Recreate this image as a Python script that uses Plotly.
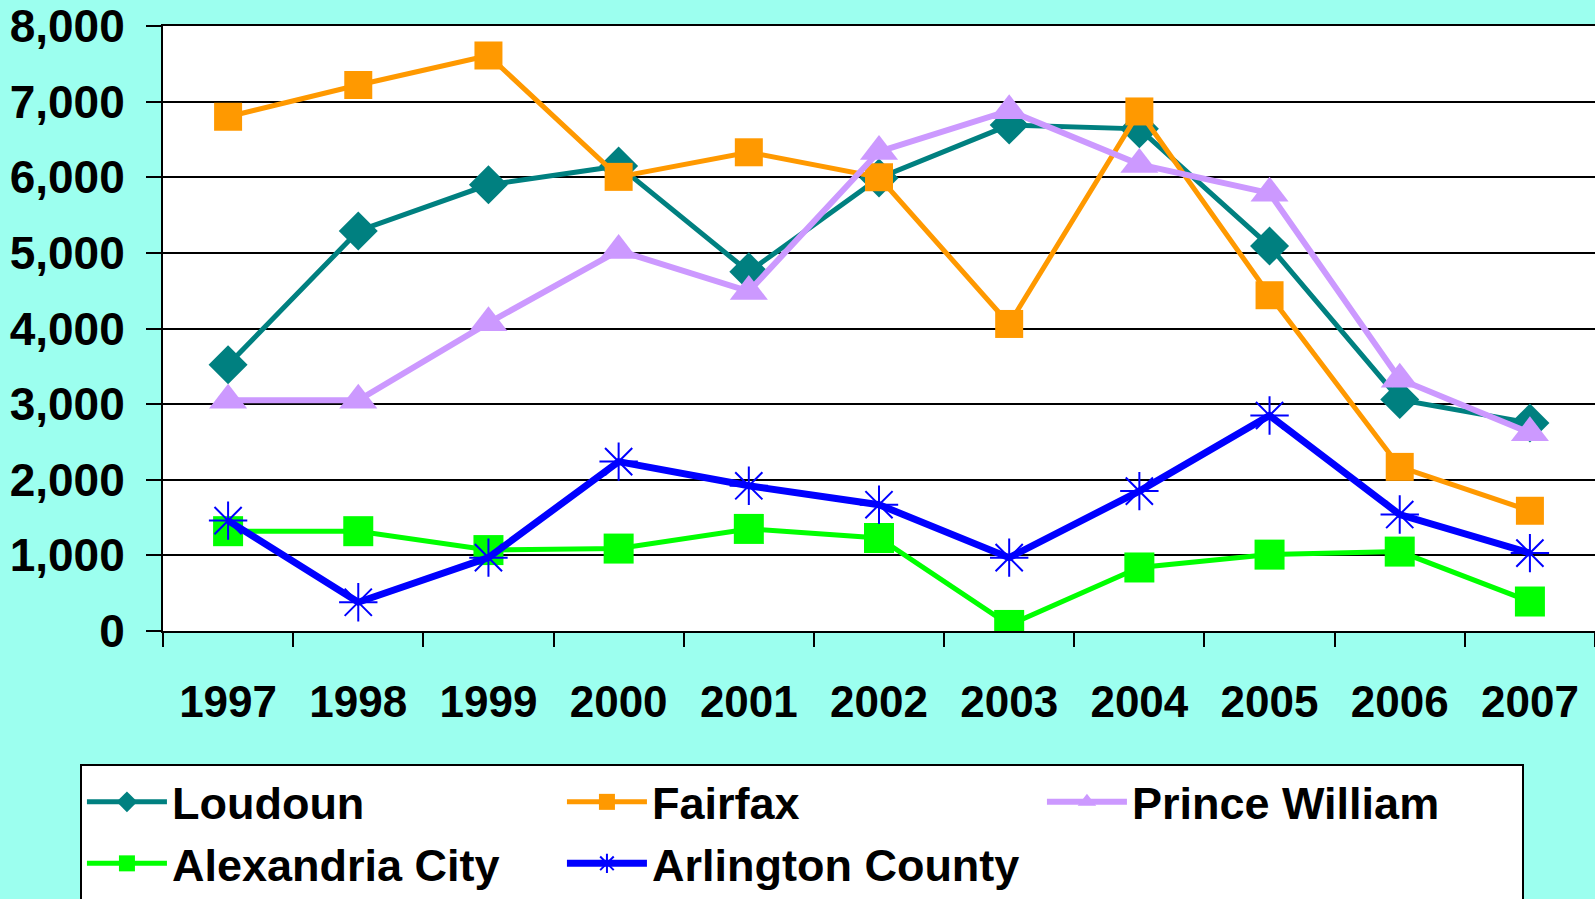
import plotly.graph_objects as go

BG = "#9CFFEF"

years = ["1997", "1998", "1999", "2000", "2001", "2002", "2003", "2004", "2005", "2006", "2007"]

loudoun = [3520, 5290, 5900, 6150, 4750, 5990, 6690, 6640, 5090, 3060, 2750]
fairfax = [6800, 7220, 7610, 6005, 6330, 6000, 4060, 6870, 4440, 2170, 1590]
prince_william = [3050, 3050, 4075, 5030, 4490, 6340, 6880, 6170, 5790, 3330, 2620]
alexandria = [1320, 1320, 1070, 1090, 1350, 1230, 80, 840, 1010, 1050, 390]
arlington = [1460, 380, 970, 2240, 1920, 1670, 970, 1850, 2850, 1540, 1030]

series = [
    ("Loudoun", loudoun, "#008080", "diamond", 30, 5),
    ("Fairfax", fairfax, "#FF9900", "square", 28, 5),
    ("Prince William", prince_william, "#CC99FF", "triangle-up", 33, 6),
    ("Alexandria City", alexandria, "#00FF00", "square", 30, 5),
    ("Arlington County", arlington, "#0000FF", "asterisk-open", 32, 7),
]

fig = go.Figure()
for name, vals, color, sym, size, lw in series:
    marker = dict(symbol=sym, size=size, color=color)
    if sym == "asterisk-open":
        marker["line"] = dict(color=color, width=2)
    fig.add_scatter(x=years, y=vals, name=name, mode="lines+markers",
                    line=dict(color=color, width=lw), marker=marker)

fig.update_layout(
    width=1595, height=899,
    paper_bgcolor=BG, plot_bgcolor="white",
    font=dict(family="Liberation Sans, Arial, sans-serif", color="black", size=44),
    margin=dict(l=163, r=0, t=26, b=268, autoexpand=False),
    legend=dict(
        orientation="h", x=-0.058, xanchor="left", y=-0.22, yanchor="top",
        bgcolor="white", bordercolor="black", borderwidth=2,
        font=dict(size=45, family="Liberation Sans, Arial, sans-serif", weight="bold"),
        entrywidth=385, entrywidthmode="pixels", itemwidth=80,
    ),
    showlegend=True,
)
fig.update_xaxes(
    type="category", range=[-0.5, len(years) - 0.5],
    tickson="boundaries", ticks="outside", ticklen=14,
    tickwidth=2, tickcolor="black", showline=True, linecolor="black",
    linewidth=2, mirror=True, showgrid=False, ticklabelstandoff=31,
    tickfont=dict(size=44, weight="bold"),
)
fig.update_yaxes(
    range=[0, 8000], dtick=1000, tickformat=",", ticks="outside", ticklen=15,
    tickwidth=2, tickcolor="black", showline=True, linecolor="black",
    linewidth=2, gridcolor="black", gridwidth=2, zeroline=False,
    ticklabelstandoff=12, tickfont=dict(size=46, weight="bold"),
)

fig.write_html(
    "out.html",
    config={"displayModeBar": False},
    post_script="document.body.style.margin='0';document.body.style.overflow='hidden';",
)
